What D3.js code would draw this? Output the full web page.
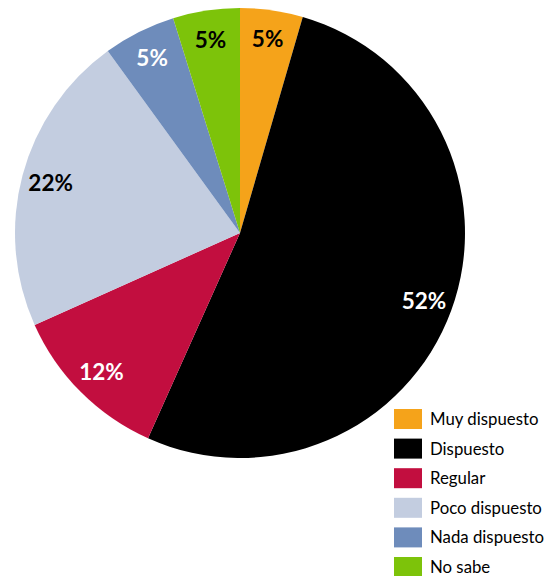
<!DOCTYPE html>
<html>
<head>
<meta charset="utf-8">
<script src="https://cdn.jsdelivr.net/npm/d3@7"></script>
<style>
  html, body { margin: 0; padding: 0; background: #fff; }
  svg { display: block; }
</style>
</head>
<body>
<svg id="chart" width="547" height="576"></svg>
<script>
// Willingness categories, in clockwise order from 12 o'clock
const categories = ["Muy dispuesto", "Dispuesto", "Regular", "Poco dispuesto", "Nada dispuesto", "No sabe"];
const shares = [4.5, 52.2, 11.6, 21.7, 5.2, 4.8];
const sliceColors = ["#F5A31A", "#000000", "#C20E3F", "#C3CDE0", "#6E8CBB", "#7DC30A"];
const labelColors = ["#000", "#fff", "#fff", "#000", "#fff", "#000"];

const svg = d3.select("#chart");
const cx = 240, cy = 233, radius = 225;

const data = categories.map((c, i) => ({ name: c, value: shares[i], i }));

const pie = d3.pie().value(d => d.value).sort(null);
const arc = d3.arc().innerRadius(0).outerRadius(radius);
const labelArc = d3.arc().innerRadius(196).outerRadius(196);

const color = d3.scaleOrdinal().domain(categories).range(sliceColors);

const g = svg.append("g").attr("transform", `translate(${cx},${cy})`);
const arcs = pie(data);

g.selectAll("path.slice")
  .data(arcs)
  .join("path")
  .attr("class", "slice")
  .attr("d", arc)
  .attr("fill", d => color(d.data.name));

g.selectAll("text.pct")
  .data(arcs)
  .join("text")
  .attr("class", "pct")
  .attr("transform", d => `translate(${labelArc.centroid(d)})`)
  .attr("text-anchor", "middle")
  .attr("dominant-baseline", "central")
  .attr("font-family", "Lato, 'Open Sans', sans-serif")
  .attr("font-weight", "bold")
  .attr("font-size", 22.5)
  .attr("fill", d => labelColors[d.data.i])
  .text(d => Math.round(d.data.value) + "%");

// Legend
const legend = svg.append("g").attr("transform", "translate(394,409)");
const rowStep = 29.6;
const rows = legend.selectAll("g.row")
  .data(categories)
  .join("g")
  .attr("class", "row")
  .attr("transform", (d, i) => `translate(0,${i * rowStep})`);

rows.append("rect")
  .attr("width", 28)
  .attr("height", 20)
  .attr("fill", d => color(d));

rows.append("text")
  .attr("x", 36)
  .attr("y", 16)
  .attr("font-family", "Lato, 'Open Sans', sans-serif")
  .attr("font-size", 16.8)
  .attr("fill", "#000")
  .text(d => d);
</script>
</body>
</html>
